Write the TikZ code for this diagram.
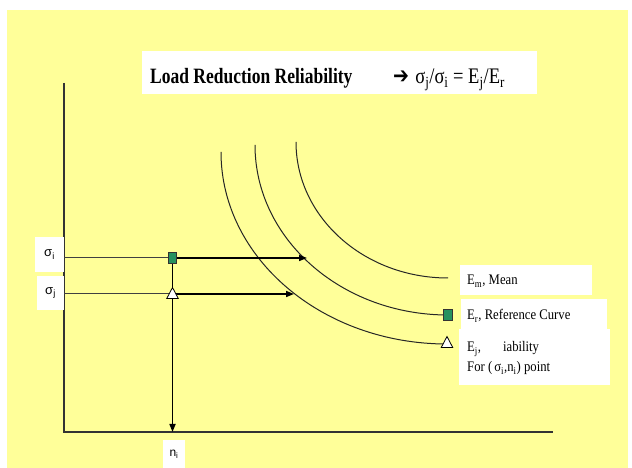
\documentclass[tikz,border=0pt]{standalone}
\usepackage{fontspec}
\setmainfont{Liberation Serif}
\newfontfamily\lsans{Liberation Sans}
\newfontfamily\djv{DejaVu Sans}
\usetikzlibrary{arrows.meta,shapes.geometric}
\definecolor{bgyellow}{RGB}{255,255,153}
\definecolor{mkgreen}{RGB}{38,145,95}
\newcommand{\vstr}[1]{\scalebox{1}[1.15]{#1}}
\begin{document}
\begin{tikzpicture}[x=1pt,y=1pt,
  axis/.style={draw=black!80, line width=1.4pt},
  guide/.style={draw=black!75, line width=1pt},
  arr/.style={draw=black, line width=1.6pt, -{Triangle[length=8pt,width=6pt]}},
  curve/.style={draw=black!85, line width=1pt},
  wbox/.style={fill=white, draw=none, inner sep=0pt, anchor=south west},
  lbl/.style={anchor=base west, inner sep=0pt, font=\fontsize{12.7}{15}\selectfont},
  slbl/.style={fill=white, draw=none, inner sep=0pt, font=\lsans\fontsize{13}{15}\selectfont},
  sqmark/.style={draw=black!80, fill=mkgreen, minimum width=8.5pt, minimum height=11.5pt, inner sep=0pt, line width=0.7pt},
  trimark/.style={draw=black, fill=white, isosceles triangle, isosceles triangle apex angle=55, shape border rotate=90, minimum height=11pt, inner sep=0pt, line width=0.8pt},
]
\fill[white] (0,0) rectangle (632,468);
\useasboundingbox (0,0) rectangle (632,468);
\fill[bgyellow] (7,0) rectangle (628,458);

% title
\node[wbox, minimum width=395pt, minimum height=43pt] (titlebox) at (142,374) {};
\node[anchor=base west, inner sep=0pt] (title) at (150,384)
  {\fontsize{17.5}{20}\selectfont\bfseries\scalebox{1}[1.25]{Load Reduction Reliability}};
\node[anchor=base west, inner sep=0pt] (formula) at (393,384)
  {\fontsize{18.5}{20}\selectfont\scalebox{1}[1.2]{{\djv\fontsize{19}{20}\selectfont ➔}\,\,σ\textsubscript{j}/σ\textsubscript{i} = E\textsubscript{j}/E\textsubscript{r}}};

% axes
\coordinate (ytop) at (64,385);
\coordinate (origin) at (64,36);
\coordinate (xend) at (553,36);
\draw[axis] (ytop) -- (origin) -- (xend);

% curves
\coordinate (c1s) at (221,316);
\coordinate (c2s) at (255,323);
\coordinate (c3s) at (296,326);
\draw[curve] (c1s) arc[start angle=180, end angle=270, x radius=226pt, y radius=192pt] coordinate (c1e);
\draw[curve] (c2s) arc[start angle=180, end angle=270, x radius=193pt, y radius=170pt] coordinate (c2e);
\draw[curve] (c3s) arc[start angle=180, end angle=270, x radius=152pt, y radius=136pt] coordinate (c3e);

% axis labels
\node[slbl, minimum width=29pt, minimum height=35pt] (sigI) at (49.5,213.5) {σ\textsubscript{i}};
\node[slbl, minimum width=27pt, minimum height=34pt] (sigJ) at (50.5,175) {σ\textsubscript{j}};
\node[slbl, minimum width=22pt, minimum height=28pt, font=\lsans\fontsize{12}{14}\selectfont] (nI) at (174,14) {n\textsubscript{i}};

% guide lines and arrows
\coordinate (yI) at (64,210);
\coordinate (yJ) at (64,174);
\coordinate (tipI) at (307,210);
\coordinate (tipJ) at (294,174);
\coordinate (xI) at (172.5,36);
\coordinate (pI) at (172.5,210);
\coordinate (pJ) at (172.5,174);
\draw[guide] (yI) -- (pI);
\draw[guide] (yJ) -- (pJ);
\draw[arr] (pI) -- (tipI);
\draw[arr] (pJ) -- (tipJ);
\draw[arr] (pI) -- (xI);

% markers
\node[sqmark] (sqI) at (pI) {};
\node[trimark] (triJ) at (172.5,173) {};
\node[sqmark] (sqR) at (c2e) {};
\node[trimark] (triR) at (c1e) {};

% legend
\node[wbox, minimum width=132pt, minimum height=30pt] (boxM) at (460,173) {};
\node[lbl] (txtM) at (467,183) {\vstr{E\textsubscript{m}, Mean}};
\node[wbox, minimum width=146pt, minimum height=30pt] (boxR) at (461,139) {};
\node[lbl] (txtR) at (467,148) {\vstr{E\textsubscript{r}, Reference Curve}};
\node[wbox, minimum width=151pt, minimum height=56pt] (boxJ) at (459,83) {};
\node[lbl] (txtJ1) at (467,116) {\vstr{E\textsubscript{j},\hspace{22pt}iability}};
\node[lbl] (txtJ2) at (467,96) {\vstr{For (\,σ\textsubscript{i},n\textsubscript{i}) point}};
\end{tikzpicture}
\end{document}
